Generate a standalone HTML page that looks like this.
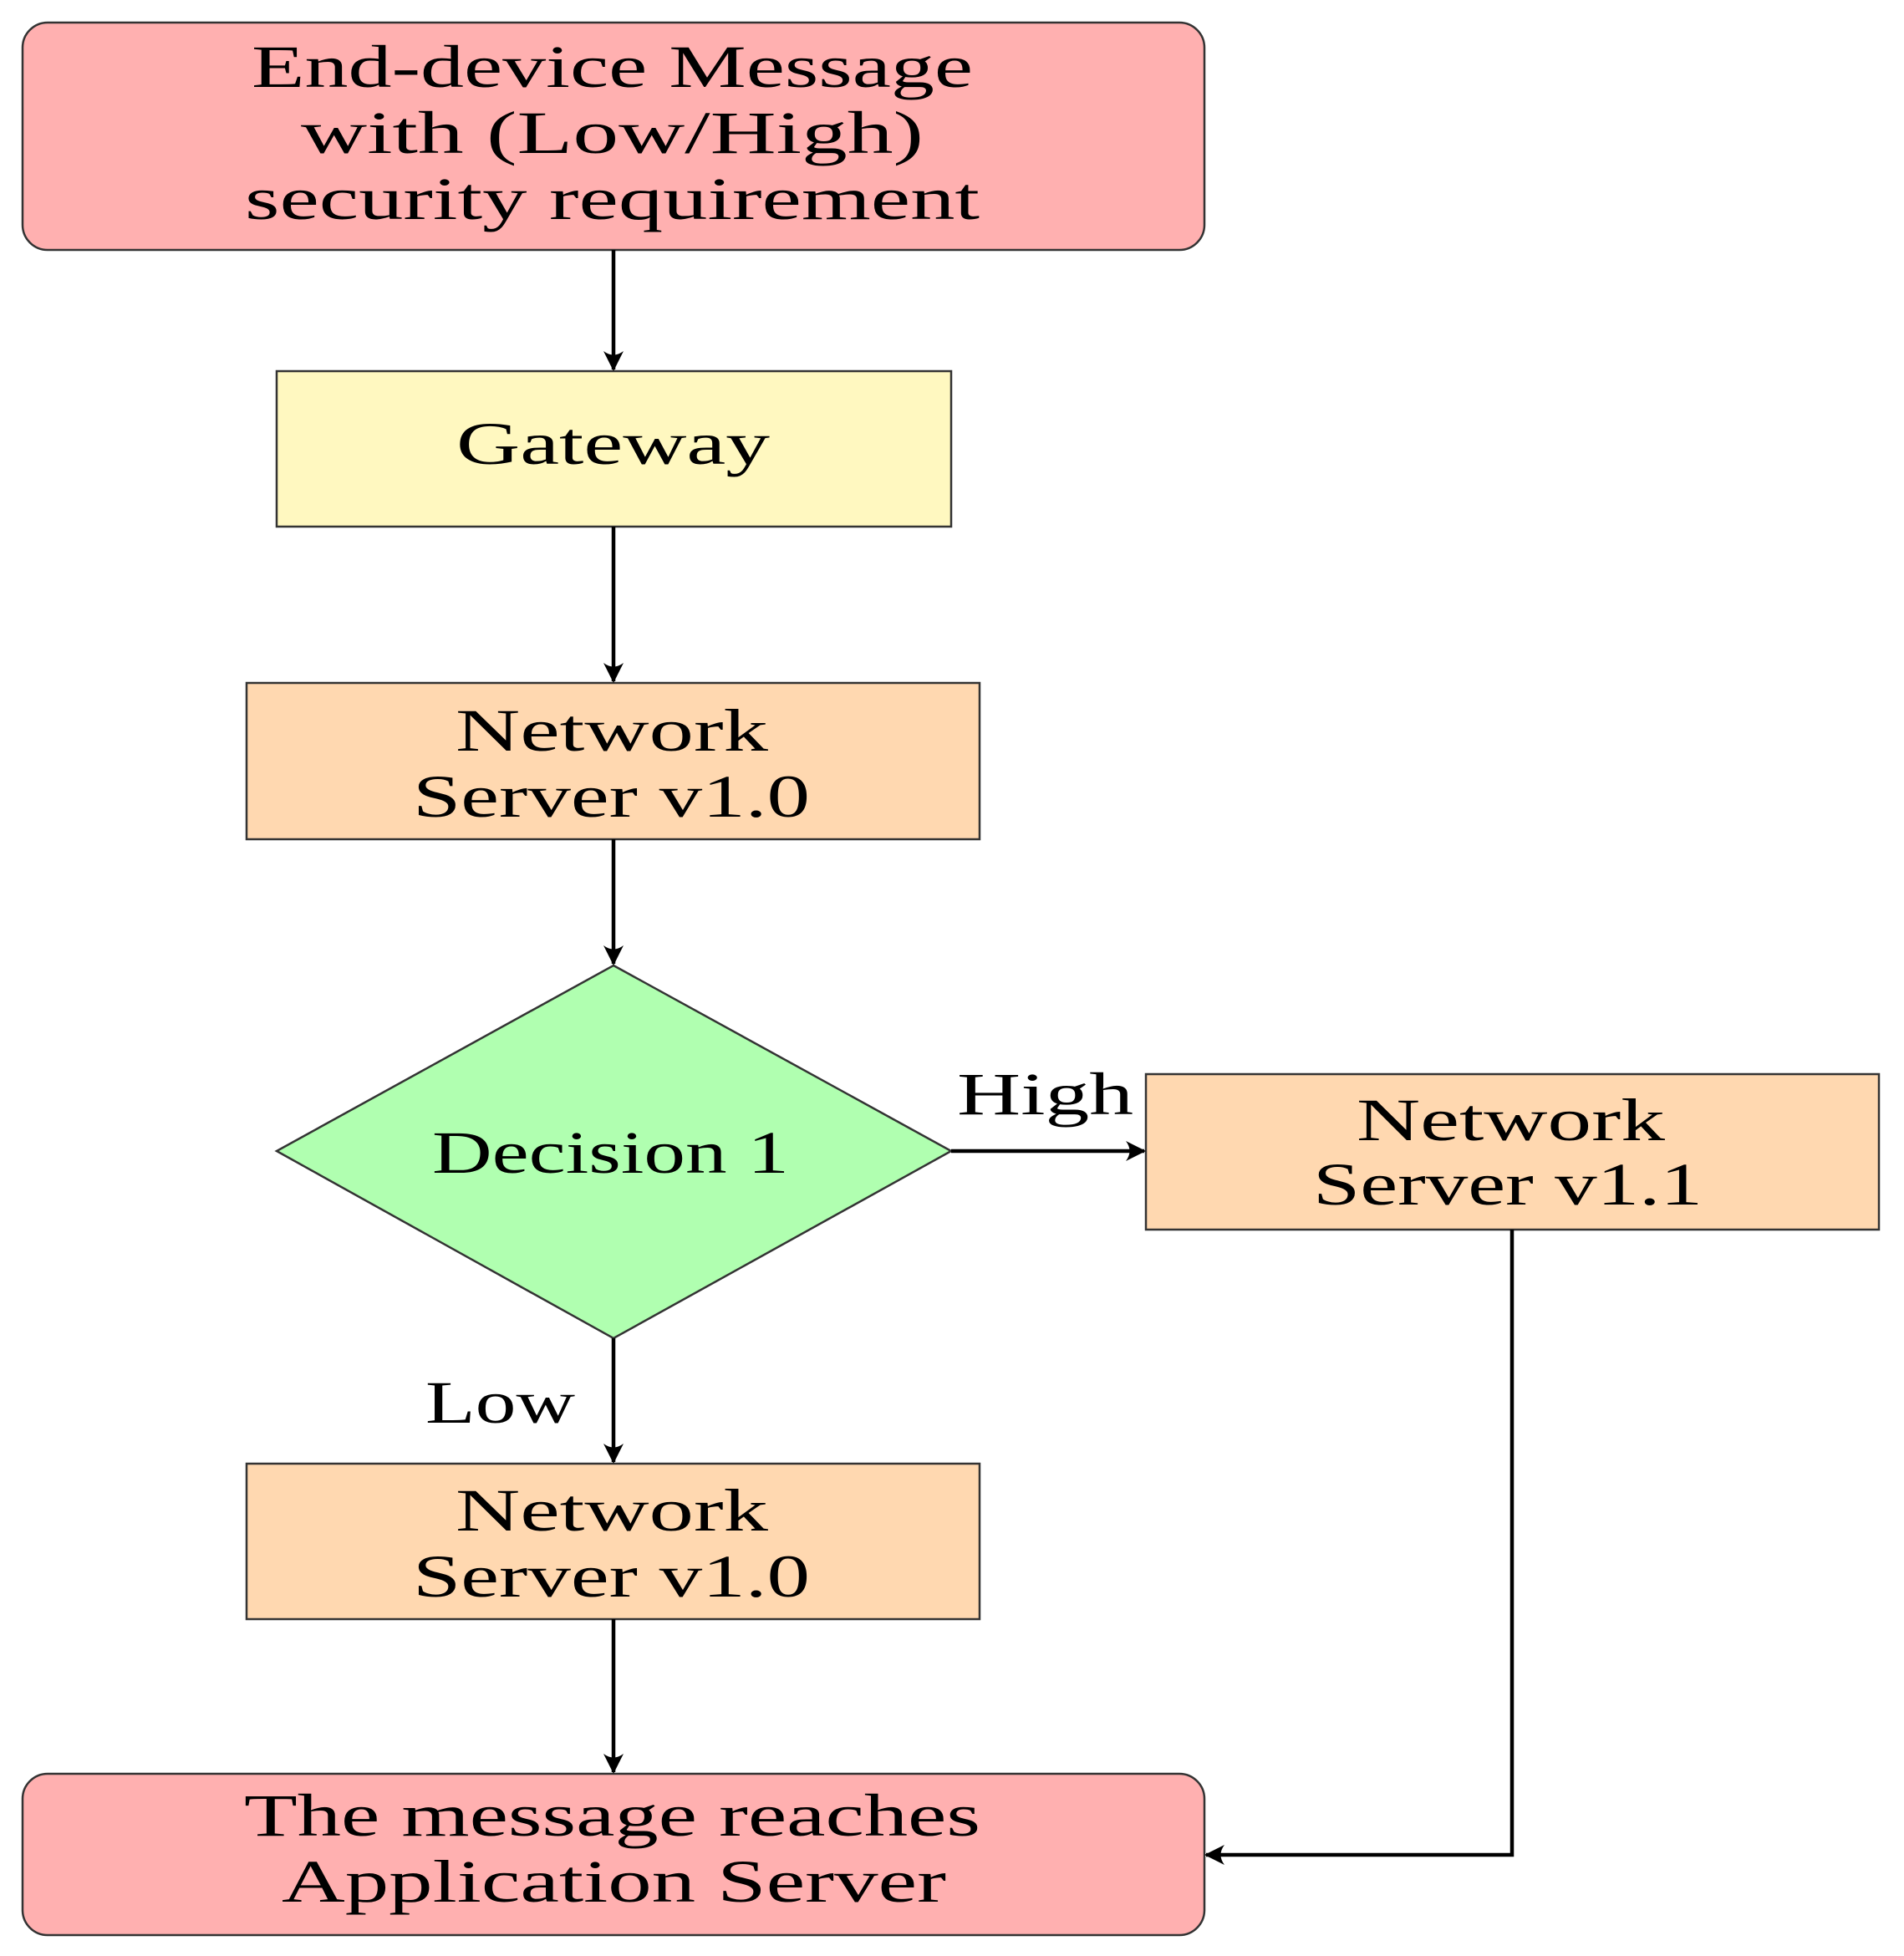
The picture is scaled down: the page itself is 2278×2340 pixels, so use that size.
<!DOCTYPE html>
<html><head><meta charset="utf-8"><style>html,body{margin:0;padding:0;background:#fff}svg{display:block}</style></head>
<body>
<svg width="2278" height="2340" viewBox="0 0 2278 2340" xmlns="http://www.w3.org/2000/svg">
<defs>
<marker id="a" markerWidth="26" markerHeight="26" refX="22" refY="13" orient="auto" markerUnits="userSpaceOnUse">
<path d="M0,1 Q9,13 0,25 L24,13 Z" fill="#000"/>
</marker>
</defs>
<g stroke="#333" stroke-width="2.5">
<rect x="27" y="27" width="1414" height="272" rx="30" fill="#FFB0B0"/>
<rect x="331" y="444" width="807" height="186" fill="#FFF8C0"/>
<rect x="295" y="817" width="877" height="187" fill="#FFD8B0"/>
<polygon points="734,1155 1138,1377 734,1601 331,1377" fill="#B0FFB0"/>
<rect x="1371" y="1285" width="877" height="186" fill="#FFD8B0"/>
<rect x="295" y="1751" width="877" height="186" fill="#FFD8B0"/>
<rect x="27" y="2122" width="1414" height="193" rx="30" fill="#FFB0B0"/>
</g>
<g stroke="#000" stroke-width="4.5" fill="none">
<line x1="734" y1="299" x2="734" y2="442" marker-end="url(#a)"/>
<line x1="734" y1="630" x2="734" y2="815" marker-end="url(#a)"/>
<line x1="734" y1="1004" x2="734" y2="1153" marker-end="url(#a)"/>
<line x1="1138" y1="1377" x2="1369" y2="1377" marker-end="url(#a)"/>
<line x1="734" y1="1601" x2="734" y2="1749" marker-end="url(#a)"/>
<line x1="734" y1="1937" x2="734" y2="2120" marker-end="url(#a)"/>
<polyline points="1809,1471 1809,2219 1443,2219" marker-end="url(#a)"/>
</g>
<g font-family="Liberation Serif, serif" font-size="72" fill="#000">
<text x="301" y="104" textLength="863" lengthAdjust="spacingAndGlyphs">End-device Message</text>
<text x="360" y="183" textLength="745" lengthAdjust="spacingAndGlyphs">with (Low/High)</text>
<text x="293" y="262" textLength="879" lengthAdjust="spacingAndGlyphs">security requirement</text>
<text x="546" y="555" textLength="375" lengthAdjust="spacingAndGlyphs">Gateway</text>
<text x="545" y="898" textLength="374" lengthAdjust="spacingAndGlyphs">Network</text>
<text x="494" y="977" textLength="475" lengthAdjust="spacingAndGlyphs">Server v1.0</text>
<text x="517" y="1403" textLength="427" lengthAdjust="spacingAndGlyphs">Decision 1</text>
<text x="1145" y="1333" textLength="211" lengthAdjust="spacingAndGlyphs">High</text>
<text x="1623" y="1364" textLength="369" lengthAdjust="spacingAndGlyphs">Network</text>
<text x="1571" y="1441" textLength="466" lengthAdjust="spacingAndGlyphs">Server v1.1</text>
<text x="509" y="1702" textLength="179" lengthAdjust="spacingAndGlyphs">Low</text>
<text x="545" y="1831" textLength="374" lengthAdjust="spacingAndGlyphs">Network</text>
<text x="494" y="1910" textLength="475" lengthAdjust="spacingAndGlyphs">Server v1.0</text>
<text x="292" y="2196" textLength="881" lengthAdjust="spacingAndGlyphs">The message reaches</text>
<text x="337" y="2275" textLength="795" lengthAdjust="spacingAndGlyphs">Application Server</text>
</g>
</svg>
</body></html>
